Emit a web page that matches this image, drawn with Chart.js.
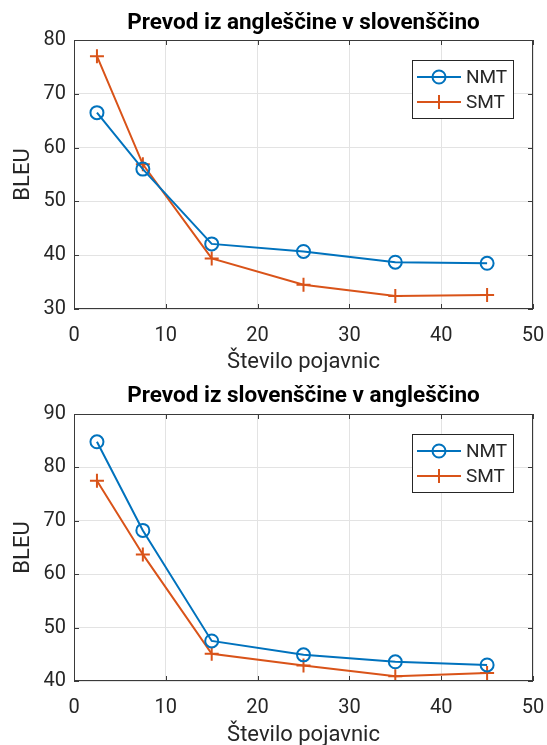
<!DOCTYPE html>
<html>
<head>
<meta charset="utf-8">
<script src="https://cdn.jsdelivr.net/npm/chart.js@4"></script>
<style>
  html, body { margin: 0; padding: 0; background: #fff; }
  .wrap { position: absolute; left: 0; width: 547px; height: 372px; }
</style>
</head>
<body>
<div class="wrap" style="top:0"><canvas id="chartEnSl"></canvas></div>
<div class="wrap" style="top:373px"><canvas id="chartSlEn"></canvas></div>
<script>
// ---- data ----
const tokenCounts = [2.5, 7.5, 15, 25, 35, 45];
const xTicks = [0, 10, 20, 30, 40, 50];

const enSlNmt = [66.5, 56.0, 42.1, 40.7, 38.7, 38.5];
const enSlSmt = [77.0, 56.9, 39.4, 34.5, 32.4, 32.6];
const enSlYTicks = [30, 40, 50, 60, 70, 80];

const slEnNmt = [84.8, 68.2, 47.5, 44.9, 43.6, 43.0];
const slEnSmt = [77.5, 63.7, 45.1, 42.9, 40.9, 41.5];
const slEnYTicks = [40, 50, 60, 70, 80, 90];

const seriesNames = ['NMT', 'SMT'];
const titles = ['Prevod iz angleščine v slovenščino', 'Prevod iz slovenščine v angleščino'];
const xLabel = 'Število pojavnic';
const yLabel = 'BLEU';

// ---- style ----
const BLUE = '#0072BD';
const ORANGE = '#D95319';
const AXIS = '#3a3a3a';
const GRID = '#e3e3e3';
const FONT = 'Roboto, "Noto Sans", sans-serif';
const TEXT = '#262626';

// frame + inside tick marks + legend box, MATLAB style
const matlabAxes = {
    id: 'matlabAxes',
    afterDatasetsDraw(chart) {
        const {ctx, chartArea: a, scales: {x, y}} = chart;
        ctx.save();
        ctx.strokeStyle = AXIS;
        ctx.lineWidth = 1;
        ctx.strokeRect(a.left + 0.5, a.top + 0.5, a.right - a.left - 1, a.bottom - a.top - 1);
        ctx.beginPath();
        const tl = 5;
        x.ticks.forEach(t => {
            const px = Math.round(x.getPixelForValue(t.value)) + 0.5;
            ctx.moveTo(px, a.bottom); ctx.lineTo(px, a.bottom - tl);
            ctx.moveTo(px, a.top); ctx.lineTo(px, a.top + tl);
        });
        y.ticks.forEach(t => {
            const py = Math.round(y.getPixelForValue(t.value)) + 0.5;
            ctx.moveTo(a.left, py); ctx.lineTo(a.left + tl, py);
            ctx.moveTo(a.right, py); ctx.lineTo(a.right - tl, py);
        });
        ctx.stroke();

        // legend
        const bw = 101, bh = 58;
        const bx = a.right - 20 - bw, by = a.top + 20;
        ctx.fillStyle = '#fff';
        ctx.fillRect(bx, by, bw, bh);
        ctx.strokeStyle = '#262626';
        ctx.strokeRect(bx + 0.5, by + 0.5, bw, bh);
        chart.data.datasets.forEach((ds, i) => {
            const ry = by + 17 + i * 25;
            ctx.strokeStyle = ds.borderColor;
            ctx.lineWidth = 2;
            ctx.beginPath();
            ctx.moveTo(bx + 5, ry); ctx.lineTo(bx + 49, ry);
            ctx.stroke();
            const mx = bx + 27;
            ctx.beginPath();
            if (ds.pointStyle === 'circle') {
                ctx.arc(mx, ry, 6.5, 0, Math.PI * 2);
            } else {
                ctx.moveTo(mx - 7, ry); ctx.lineTo(mx + 7, ry);
                ctx.moveTo(mx, ry - 7); ctx.lineTo(mx, ry + 7);
            }
            ctx.stroke();
            ctx.fillStyle = TEXT;
            ctx.font = '19px ' + FONT;
            ctx.textBaseline = 'middle';
            ctx.textAlign = 'left';
            ctx.fillText(ds.label, bx + 54, ry + 1);
        });
        ctx.restore();
    }
};

function makeChart(canvasId, title, nmt, smt, yTicks, titleBottomPad, xAxisHeight) {
    const ctx = document.getElementById(canvasId);
    return new Chart(ctx, {
        type: 'line',
        data: {
            datasets: [
                {
                    label: seriesNames[0],
                    data: tokenCounts.map((x, i) => ({x: x, y: nmt[i]})),
                    borderColor: BLUE,
                    backgroundColor: 'rgba(0,0,0,0)',
                    borderWidth: 2,
                    pointStyle: 'circle',
                    pointRadius: 6.5,
                    pointBorderWidth: 2,
                    tension: 0
                },
                {
                    label: seriesNames[1],
                    data: tokenCounts.map((x, i) => ({x: x, y: smt[i]})),
                    borderColor: ORANGE,
                    backgroundColor: ORANGE,
                    borderWidth: 2,
                    pointStyle: 'cross',
                    pointRadius: 7,
                    pointBorderWidth: 2,
                    tension: 0
                }
            ]
        },
        options: {
            responsive: true,
            maintainAspectRatio: false,
            animation: false,
            layout: { padding: { left: 0, right: 14, top: 0, bottom: 0 } },
            plugins: {
                legend: { display: false },
                tooltip: { enabled: false },
                title: {
                    display: true,
                    text: title,
                    fullSize: false,
                    color: '#000',
                    font: { family: FONT, size: 22.5, weight: 'bold', lineHeight: 1.2 },
                    padding: { top: 10, bottom: titleBottomPad }
                }
            },
            scales: {
                x: {
                    type: 'linear',
                    min: xTicks[0],
                    max: xTicks[xTicks.length - 1],
                    afterBuildTicks: s => { s.ticks = xTicks.map(v => ({value: v})); },
                    grid: { color: GRID, drawTicks: false },
                    border: { display: false },
                    ticks: { color: TEXT, padding: 15, font: { family: FONT, size: 20 } },
                    title: {
                        display: true, text: xLabel, color: TEXT,
                        font: { family: FONT, size: 22 },
                        padding: { top: 0, bottom: -4 }
                    },
                    afterFit: s => {
                        s.height = xAxisHeight;
                        s.paddingLeft = 0;
                        s.paddingRight = 0;
                    }
                },
                y: {
                    type: 'linear',
                    min: yTicks[0],
                    max: yTicks[yTicks.length - 1],
                    afterBuildTicks: s => { s.ticks = yTicks.map(v => ({value: v})); },
                    grid: { color: GRID, drawTicks: false },
                    border: { display: false },
                    ticks: { color: TEXT, padding: 8, font: { family: FONT, size: 20 } },
                    title: {
                        display: true, text: yLabel, color: TEXT,
                        font: { family: FONT, size: 22 },
                        padding: { top: 10.5, bottom: 0 }
                    },
                    afterFit: s => { s.width = 74; }
                }
            }
        },
        plugins: [matlabAxes]
    });
}

makeChart('chartEnSl', titles[0], enSlNmt, enSlSmt, enSlYTicks, 3, 63);
makeChart('chartSlEn', titles[1], slEnNmt, slEnSmt, slEnYTicks, 4, 64);
</script>
</body>
</html>
